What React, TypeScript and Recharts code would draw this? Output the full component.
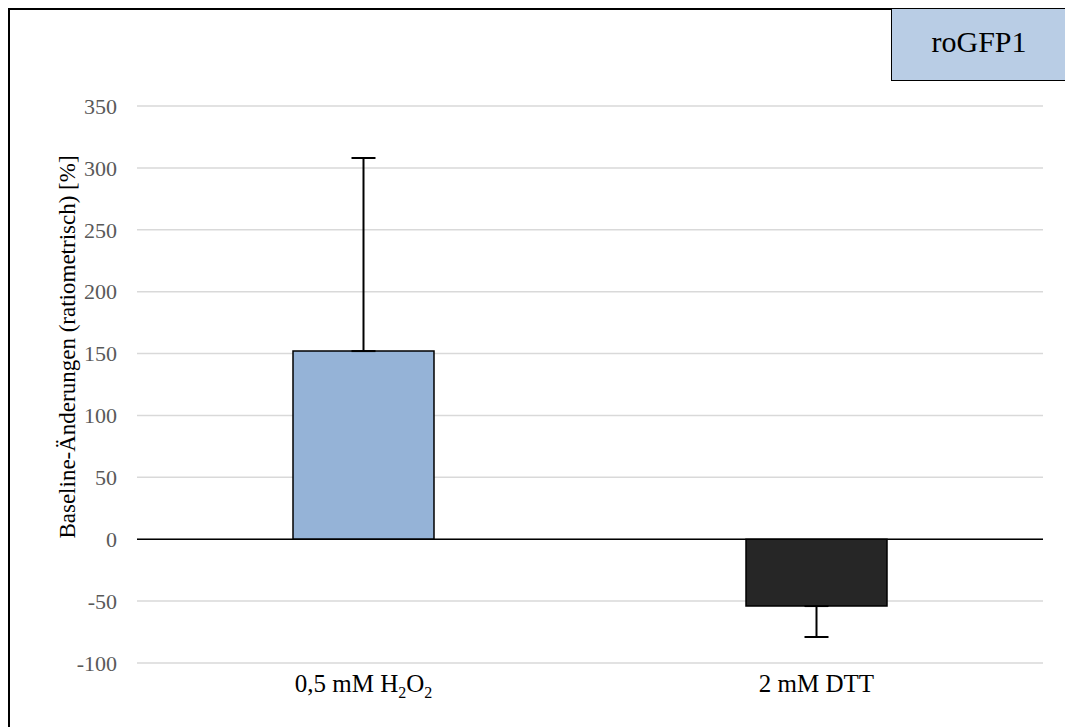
import React from 'react';
import { BarChart, Bar, XAxis, YAxis, CartesianGrid, ReferenceLine, ErrorBar, Cell } from 'recharts';

const categories = ['0,5 mM H2O2', '2 mM DTT'];
const values = [152, -54];
// [minus, plus]
const errors: [number, number][] = [[0, 156], [25, 0]];
const barColors = ['#95b3d7', '#262626'];
const yTicks = [-100, -50, 0, 50, 100, 150, 200, 250, 300, 350];

const data = categories.map((c, i) => ({ name: c, value: values[i], err: errors[i] }));

const FONT = '"Liberation Serif", "Times New Roman", serif';

const XTick = ({ x, y, payload }: any) => {
  const label: string = payload.value;
  const isH2O2 = label.includes('H2O2');
  return (
    <text x={x} y={y + 3} dy="0.71em" textAnchor="middle" fontFamily={FONT} fontSize={25} fill="#000">
      {isH2O2 ? (
        <>
          <tspan>0,5 mM H</tspan>
          <tspan fontSize={16} dy={6}>2</tspan>
          <tspan dy={-6}>O</tspan>
          <tspan fontSize={16} dy={6}>2</tspan>
        </>
      ) : label}
    </text>
  );
};

const YLabel = ({ viewBox }: any) => {
  const x = viewBox.x + 10;
  const y = 347;
  return (
    <text x={x} y={y} transform={`rotate(-90, ${x}, ${y})`} textAnchor="middle" dominantBaseline="central"
      fontFamily={FONT} fontSize={23} fill="#000">
      Baseline-Änderungen (ratiometrisch) [%]
    </text>
  );
};

export default function App() {
  return (
    <div style={{ position: 'absolute', left: 0, top: 0, width: 1065, height: 727, overflow: 'hidden', background: '#fff' }}>
      <div style={{ position: 'absolute', left: 8, top: 8, width: 1070, height: 730, border: '2px solid #000', boxSizing: 'border-box' }} />
      <div style={{ position: 'absolute', left: 0, top: 0 }}>
        <BarChart width={1065} height={727} data={data} margin={{ top: 106, right: 22, bottom: 34, left: 57 }} barSize={141}>
          <CartesianGrid vertical={false} stroke="#d9d9d9" strokeWidth={1.5} />
          <XAxis dataKey="name" axisLine={false} tickLine={false} height={30} tick={<XTick />} interval={0} />
          <YAxis width={80} domain={[-100, 350]} ticks={yTicks} allowDataOverflow axisLine={false} tickLine={false}
            tickMargin={14} tick={{ fontFamily: FONT, fontSize: 22, fill: '#595959' }} label={<YLabel />} />
          <ReferenceLine y={0} stroke="#000" strokeWidth={1.5} />
          <Bar dataKey="value" stroke="#000" strokeWidth={1.5} isAnimationActive={false}>
            {data.map((d, i) => <Cell key={d.name} fill={barColors[i]} />)}
            <ErrorBar dataKey="err" direction="y" width={12} stroke="#000" strokeWidth={2} />
          </Bar>
        </BarChart>
      </div>
      <div style={{ position: 'absolute', left: 891, top: 8, width: 185, height: 73, background: '#b9cde5', border: '1.5px solid #000', boxSizing: 'border-box' }}>
        <div style={{ width: 174, textAlign: 'center', fontFamily: FONT, fontSize: 30, lineHeight: '66px' }}>roGFP1</div>
      </div>
    </div>
  );
}
